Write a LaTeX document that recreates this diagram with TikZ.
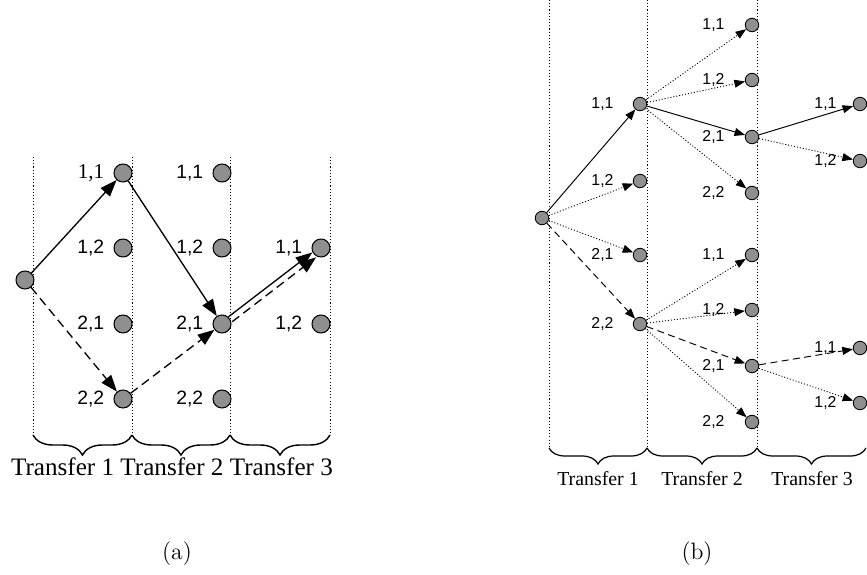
\documentclass[tikz,border=0pt]{standalone}
\usepackage{fontspec}
\newfontfamily\arialfont{Liberation Sans}
\newfontfamily\timesfont{Liberation Serif}
\usetikzlibrary{positioning, arrows.meta, decorations.pathreplacing}
\definecolor{stategray}{HTML}{8F8F8F}

\begin{document}
\begin{tikzpicture}[
      x=0.02cm, y=-0.02cm,
      state/.style={circle, draw, fill=stategray, line width=0.6pt, inner sep=0pt, minimum size=0.36cm},
      smallstate/.style={state, line width=0.5pt, minimum size=0.27cm},
      lbl/.style={font=\arialfont\fontsize{11}{13}\selectfont, inner sep=0pt},
      smalllbl/.style={font=\arialfont\fontsize{9}{11}\selectfont, inner sep=0pt},
      arr/.style={-{Triangle[length=9.5pt,width=7pt]}, line width=0.75pt},
      sarr/.style={-{Triangle[length=6pt,width=4.5pt]}, line width=0.55pt},
      alt/.style={dash pattern=on 5pt off 3pt},
      salt/.style={dash pattern=on 4pt off 2.5pt},
      dots/.style={dash pattern=on 0.6pt off 1.1pt, line width=0.5pt},
      sep/.style={dash pattern=on 0.6pt off 1.2pt, line width=0.5pt},
      brc/.style={decorate, decoration={brace, mirror, amplitude=0.4cm}, line width=0.8pt},
      sbrc/.style={decorate, decoration={brace, mirror, amplitude=0.32cm}, line width=0.7pt},
      caption/.style={font=\fontsize{13.5}{16}\selectfont},
    ]
    \useasboundingbox (0,0) rectangle (867,575);

    % (a) transfer columns
    \draw[sep] (33,157) -- (33,435);
    \draw[sep] (132,157) -- (132,435);
    \draw[sep] (230,157) -- (230,435);
    \draw[sep] (330,157) -- (330,435);

    % (a) states
    \node[state] (o) at (25,280) {};
    \node[state] (p11) at (123,173) {};
    \node[state] (p12) at (123,248) {};
    \node[state] (p21) at (123,324) {};
    \node[state] (p22) at (123,399) {};
    \node[state] (q11) at (222,173) {};
    \node[state] (q12) at (222,248) {};
    \node[state] (q21) at (222,324) {};
    \node[state] (q22) at (222,399) {};
    \node[state] (r11) at (321,248) {};
    \node[state] (r12) at (321,324) {};

    \node[lbl, font=\timesfont\fontsize{12}{14}\selectfont, left=0.18cm of p11] {1,1};
    \node[lbl, left=0.18cm of p12] {1,2};
    \node[lbl, left=0.18cm of p21] {2,1};
    \node[lbl, left=0.18cm of p22] {2,2};
    \node[lbl, left=0.18cm of q11] {1,1};
    \node[lbl, left=0.18cm of q12] {1,2};
    \node[lbl, left=0.18cm of q21] {2,1};
    \node[lbl, left=0.18cm of q22] {2,2};
    \node[lbl, left=0.18cm of r11] {1,1};
    \node[lbl, left=0.18cm of r12] {1,2};

    % (a) paths
    \draw[arr] (o) -- (p11);
    \draw[arr] (p11) -- (q21);
    \draw[arr, transform canvas={shift={(-0.6pt,0.8pt)}}] (q21) -- (r11);
    \draw[arr, alt] (o) -- (p22);
    \draw[arr, alt] (p22) -- (q21);
    \draw[arr, alt, transform canvas={shift={(1.5pt,-2pt)}}] (q21) -- (r11);

    % (a) braces
    \draw[brc] (33,435) -- (132,435);
    \draw[brc] (132,435) -- (230,435);
    \draw[brc] (230,435) -- (330,435);
    \node[anchor=base, font=\timesfont\fontsize{14.3}{16}\selectfont] (ta) at (172,475) {Transfer 1 Transfer 2 Transfer 3};
    \node[caption] (capa) at (177,554) {(a)};

    % (b) transfer columns
    \draw[sep] (549,0) -- (549,448);
    \draw[sep] (647,0) -- (647,448);
    \draw[sep] (757,0) -- (757,448);

    % (b) states
    \node[smallstate] (bo) at (542,218) {};
    \node[smallstate] (b11) at (640,104) {};
    \node[smallstate] (b12) at (640,181) {};
    \node[smallstate] (b21) at (640,255) {};
    \node[smallstate] (b22) at (640,324) {};
    \node[smallstate] (c11) at (752,25) {};
    \node[smallstate] (c12) at (752,80) {};
    \node[smallstate] (c21) at (752,137) {};
    \node[smallstate] (c22) at (752,193) {};
    \node[smallstate] (d11) at (752,255) {};
    \node[smallstate] (d12) at (752,310) {};
    \node[smallstate] (d21) at (752,366) {};
    \node[smallstate] (d22) at (752,422) {};
    \node[smallstate] (e11) at (860,104) {};
    \node[smallstate] (e12) at (860,161) {};
    \node[smallstate] (f11) at (860,348) {};
    \node[smallstate] (f12) at (860,403) {};

    \node[smalllbl, left=0.38cm of b11] {1,1};
    \node[smalllbl, left=0.38cm of b12] {1,2};
    \node[smalllbl, left=0.38cm of b21] {2,1};
    \node[smalllbl, left=0.38cm of b22] {2,2};
    \node[smalllbl, left=0.4cm of c11] {1,1};
    \node[smalllbl, left=0.4cm of c12] {1,2};
    \node[smalllbl, left=0.4cm of c21] {2,1};
    \node[smalllbl, left=0.4cm of c22] {2,2};
    \node[smalllbl, left=0.4cm of d11] {1,1};
    \node[smalllbl, left=0.4cm of d12] {1,2};
    \node[smalllbl, left=0.4cm of d21] {2,1};
    \node[smalllbl, left=0.4cm of d22] {2,2};
    \node[smalllbl, left=0.32cm of e11] {1,1};
    \node[smalllbl, left=0.32cm of e12] {1,2};
    \node[smalllbl, left=0.32cm of f11] {1,1};
    \node[smalllbl, left=0.32cm of f12] {1,2};

    % (b) paths
    \draw[sarr] (bo) -- (b11);
    \draw[sarr, dots] (bo) -- (b12);
    \draw[sarr, dots] (bo) -- (b21);
    \draw[sarr, salt] (bo) -- (b22);
    \draw[sarr, dots] (b11) -- (c11);
    \draw[sarr, dots] (b11) -- (c12);
    \draw[sarr] (b11) -- (c21);
    \draw[sarr, dots] (b11) -- (c22);
    \draw[sarr, dots] (b22) -- (d11);
    \draw[sarr, dots] (b22) -- (d12);
    \draw[sarr, salt] (b22) -- (d21);
    \draw[sarr, dots] (b22) -- (d22);
    \draw[sarr] (c21) -- (e11);
    \draw[sarr, dots] (c21) -- (e12);
    \draw[sarr, salt] (d21) -- (f11);
    \draw[sarr, dots] (d21) -- (f12);

    % (b) braces
    \draw[sbrc] (549,448) -- (647,448);
    \draw[sbrc] (647,448) -- (757,448);
    \draw[sbrc] (757,448) -- (866,448);
    \node[anchor=base, font=\timesfont\fontsize{11.3}{13}\selectfont] (tb1) at (598,485) {Transfer 1};
    \node[anchor=base, font=\timesfont\fontsize{11.3}{13}\selectfont] (tb2) at (702,485) {Transfer 2};
    \node[anchor=base, font=\timesfont\fontsize{11.3}{13}\selectfont] (tb3) at (812,485) {Transfer 3};
    \node[caption] (capb) at (697,554) {(b)};
  \end{tikzpicture}
\end{document}
